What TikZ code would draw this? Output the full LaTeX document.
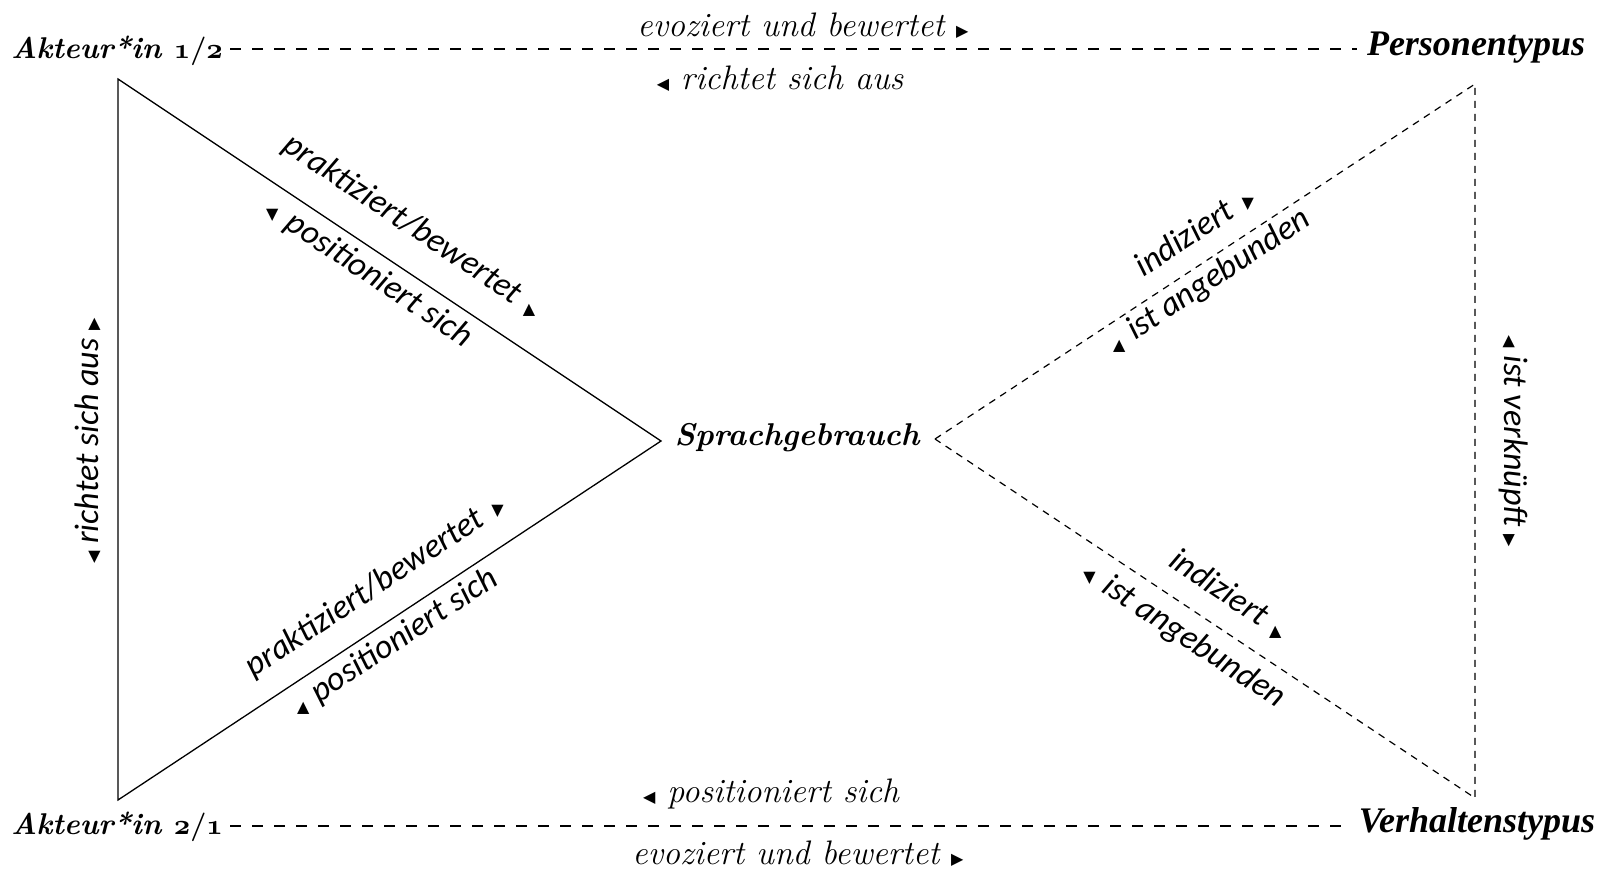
\documentclass[tikz,border=0pt]{standalone}
\usepackage{fontspec}
\newfontfamily\carl{Carlito}
\newfontfamily\dvs{DejaVu Sans}
\newfontfamily\libs{Liberation Serif}
\newcommand\tri[1]{{\dvs\fontsize{16}{16}\selectfont #1}}
\newcommand\rtri[2]{\rotatebox[origin=c]{#1}{\tri{#2}}}
\newcommand\osn[1]{\scalebox{1.15}{\boldmath$\mathnormal{#1}$}}
\begin{document}
\begin{tikzpicture}[x=1pt,y=-1pt,
  lbl/.style={font=\fontsize{34}{40}\selectfont\itshape, inner sep=2pt},
  dlbl/.style={font=\fontsize{34}{40}\selectfont\carl\itshape, inner sep=2pt, text height=0.72em, text depth=0.22em},
  vtx/.style={font=\fontsize{30}{36}\selectfont\bfseries\itshape, inner sep=7pt, text height=0.7em, text depth=0.2em},
  vtt/.style={font=\fontsize{36}{40}\selectfont\libs\bfseries\itshape, inner sep=10pt, text height=0.7em, text depth=0.2em},
  solidl/.style={line width=1.3pt},
  dashl/.style={line width=1.3pt, dash pattern=on 11pt off 11pt},
  dashd/.style={line width=1.2pt, dash pattern=on 7pt off 6pt}]
\useasboundingbox (0,0) rectangle (1608,874);
% vertices
\coordinate (A1) at (118,79);
\coordinate (A2) at (118,800);
\coordinate (S1) at (661,441);
\coordinate (S2) at (935,439);
\coordinate (P) at (1475,84);
\coordinate (V) at (1475,798);
\coordinate (h1) at (0,49);
\coordinate (h2) at (0,826);
% main labels
\node[vtx] (a1) at (117,56) {Akteur*in \osn{1/2}};
\node[vtx] (a2) at (117,832) {Akteur*in \osn{2/1}};
\node[vtt] (pt) at (1476,53) {Personentypus};
\node[vtt] (vt) at (1477,830) {Verhaltenstypus};
\node[vtx,font=\fontsize{31.5}{36}\selectfont\bfseries\itshape] (sg) at (797,443) {Sprachgebrauch};
% horizontal dashed lines
\draw[dashl] (a1.east |- h1) -- (pt.west |- h1);
\draw[dashl] (a2.east |- h2) -- (vt.west |- h2);
\node[lbl] (t1) at (803,26) {evoziert und bewertet \tri{▶}};
\node[lbl] (t2) at (780,79) {\tri{◀} richtet sich aus};
\node[lbl] (b1) at (771,794) {\tri{◀} positioniert sich};
\node[lbl] (b2) at (798,854) {evoziert und bewertet \tri{▶}};
% left triangle
\draw[solidl] (A1) -- (S1) -- (A2) -- cycle;
\node[dlbl,rotate=90] (l1) at (96,441) {\tri{◀} richtet sich aus \tri{▶}};
\node[dlbl,rotate=-33.7] (ul1) at (409,232) {praktiziert/bewertet \rtri{33.7}{▲}};
\node[dlbl,rotate=-33.7] (ul2) at (365,279) {\rtri{33.7}{▼} positioniert sich};
\node[dlbl,rotate=33.5] (ll1) at (379,592) {praktiziert/bewertet \rtri{-33.5}{▼}};
\node[dlbl,rotate=33.5] (ll2) at (398,648) {\rtri{-33.5}{▲} positioniert sich};
% right triangle
\draw[dashd] (S2) -- (P) -- (V) -- cycle;
\node[dlbl,rotate=-90] (r1) at (1507,441) {\tri{◀} ist verknüpft \tri{▶}};
\node[dlbl,rotate=33.3] (ur1) at (1199,238) {indiziert \rtri{-33.3}{▼}};
\node[dlbl,rotate=33.3] (ur2) at (1212,287) {\rtri{-33.3}{▲} ist angebunden};
\node[dlbl,rotate=-33.6] (lr1) at (1225,601) {indiziert \rtri{33.6}{▲}};
\node[dlbl,rotate=-33.6] (lr2) at (1180,641) {\rtri{33.6}{▼} ist angebunden};
\end{tikzpicture}
\end{document}
